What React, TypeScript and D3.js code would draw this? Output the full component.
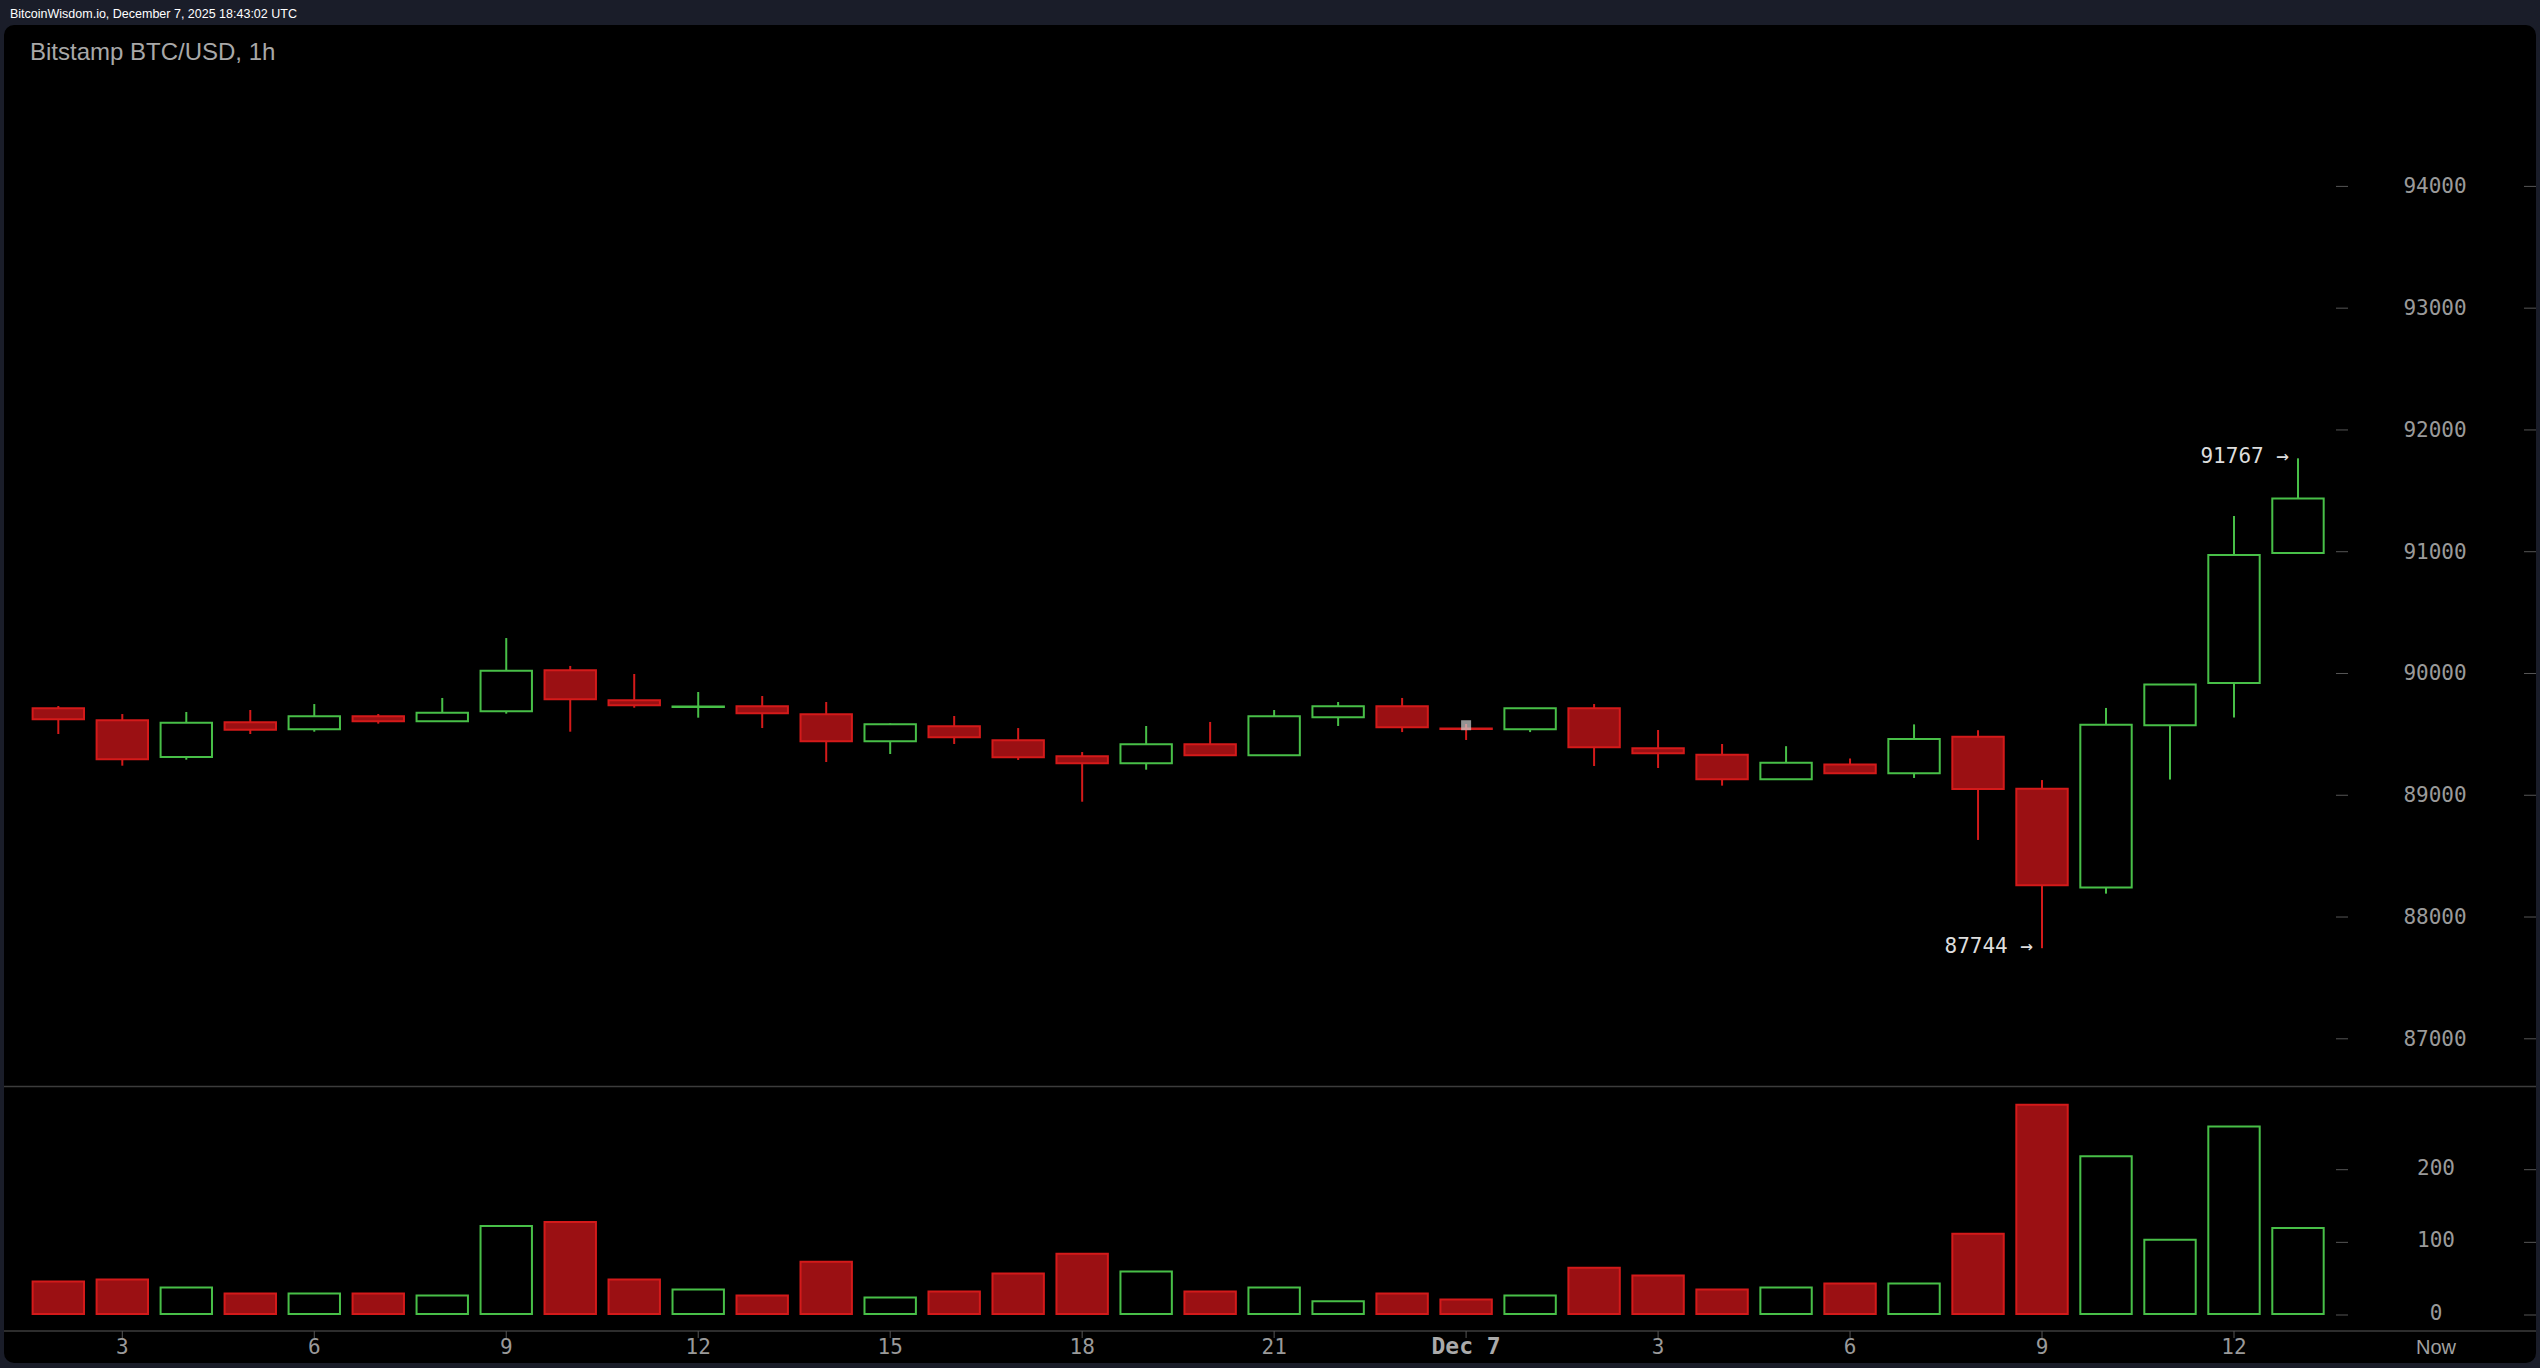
import React from "react";
import * as d3 from "d3";

const hours = [2,3,4,5,6,7,8,9,10,11,12,13,14,15,16,17,18,19,20,21,22,23,24,25,26,27,28,29,30,31,32,33,34,35,36,37];
const opens = [89714,89616,89314,89599,89542,89648,89607,89690,90026,89780,89725,89731,89665,89443,89566,89451,89320,89263,89419,89328,89640,89731,89549,89542,89714,89386,89333,89132,89252,89180,89481,89054,88243,89575,89921,90989];
const highs = [89733,89667,89684,89700,89749,89667,89799,90291,90062,89996,89848,89815,89766,89590,89651,89552,89355,89569,89602,89700,89766,89799,89585,89714,89749,89536,89421,89403,89302,89582,89534,89125,89717,89909,91294,91767];
const lows = [89503,89243,89292,89503,89522,89588,89604,89670,89522,89719,89637,89552,89273,89339,89421,89290,88947,89210,89325,89325,89569,89519,89454,89519,89240,89224,89079,89130,89175,89142,88633,87744,88192,89129,89639,90989];
const closes = [89624,89295,89596,89538,89648,89607,89678,90023,89788,89739,89729,89673,89443,89583,89476,89312,89263,89419,89328,89648,89731,89558,89545,89714,89394,89345,89132,89267,89180,89462,89051,88261,89579,89909,90974,91436];
const volumes = [44.7,47.4,36.5,28.3,28.3,28.3,25.6,121.2,126.7,47.4,33.8,25.6,72.0,22.8,31.0,55.6,83.0,58.4,31.0,36.5,17.4,28.3,20.1,25.6,63.8,52.9,33.8,36.5,42.0,42.0,110.3,288.0,217.0,102.1,258.0,118.5];

const priceTicks = [87000,88000,89000,90000,91000,92000,93000,94000];
const volumeTicks = [0,100,200];
const timeTickHours = [3,6,9,12,15,18,21,24,27,30,33,36];
const timeTickLabels = ["3","6","9","12","15","18","21","Dec 7","3","6","9","12"];
const highMark = { hour: 37, price: 91767, label: "91767 →" };
const lowMark = { hour: 33, price: 87744, label: "87744 →" };
const cursorMark = { hour: 24, price: 89575 };

const headerText = "BitcoinWisdom.io, December 7, 2025 18:43:02 UTC";
const titleText = "Bitstamp BTC/USD, 1h";

const W = 2540;
const H = 1368;
const RED_FILL = "#9b1013";
const RED_STROKE = "#d41a1a";
const GREEN = "#48bf48";
const MONO = "'DejaVu Sans Mono', monospace";

export default function App() {
  const x = d3.scaleLinear().domain([3, 36]).range([122.3, 2234]);
  const yP = d3.scaleLinear().domain([87000, 94000]).range([1038.8, 186.4]);
  const yV = d3.scaleLinear().domain([0, 200]).range([1314, 1168.7]);
  const half = 25.7;

  const candles = hours.map((h, i) => ({
    h, o: opens[i], hi: highs[i], lo: lows[i], c: closes[i], v: volumes[i],
    up: closes[i] >= opens[i],
  }));

  const bodyPath = (cx: number, y0: number, y1: number) =>
    `M${cx - half},${y0}H${cx + half}V${y1}H${cx - half}Z`;

  return (
    <div style={{ position: "absolute", left: 0, top: 0, width: W, height: H }}>
      <svg width={W} height={H} style={{ display: "block" }}>
        <rect x={0} y={0} width={W} height={H} fill="#1a1d29" />
        <text x={10} y={18} fill="#ffffff" fontFamily="'Liberation Sans', Arial, sans-serif" fontSize={12.5}>
          {headerText}
        </text>
        <rect x={4} y={25} width={2532} height={1338} rx={10} fill="#000" />
        <text x={30} y={60} fill="#a8a8a8" fontFamily="'Liberation Sans', Arial, sans-serif" fontSize={24}>
          {titleText}
        </text>

        {/* separators */}
        <line x1={4} x2={2536} y1={1086.5} y2={1086.5} stroke="#3c3c3c" strokeWidth={1.5} />
        <line x1={4} x2={2536} y1={1331} y2={1331} stroke="#3c3c3c" strokeWidth={1.5} />

        {/* price axis */}
        {priceTicks.map((t) => (
          <g key={"p" + t}>
            <line x1={2336} x2={2348} y1={yP(t)} y2={yP(t)} stroke="#555" />
            <line x1={2524} x2={2536} y1={yP(t)} y2={yP(t)} stroke="#555" />
            <text x={2435} y={yP(t) + 7} textAnchor="middle" fill="#9a9a9a" fontFamily={MONO} fontSize={21}>
              {t}
            </text>
          </g>
        ))}

        {/* volume axis */}
        {volumeTicks.map((t) => (
          <g key={"v" + t}>
            <line x1={2336} x2={2348} y1={yV(t) + 1} y2={yV(t) + 1} stroke="#555" />
            <line x1={2524} x2={2536} y1={yV(t) + 1} y2={yV(t) + 1} stroke="#555" />
            <text x={2436} y={yV(t) + 6} textAnchor="middle" fill="#9a9a9a" fontFamily={MONO} fontSize={21}>
              {t}
            </text>
          </g>
        ))}

        {/* time axis */}
        {timeTickHours.map((h, i) => (
          <g key={"t" + i}>
            <line x1={x(h)} x2={x(h)} y1={1331} y2={1338} stroke="#555" />
            <text
              x={x(h)}
              y={1354}
              textAnchor="middle"
              fill={timeTickLabels[i] === "Dec 7" ? "#aaaaaa" : "#9a9a9a"}
              fontFamily={MONO}
              fontWeight={timeTickLabels[i] === "Dec 7" ? "bold" : "normal"}
              fontSize={timeTickLabels[i] === "Dec 7" ? 23 : 21}
            >
              {timeTickLabels[i]}
            </text>
          </g>
        ))}
        <text x={2436} y={1354} textAnchor="middle" fill="#a0a0a0" fontFamily="'Liberation Sans', Arial, sans-serif" fontSize={20}>
          Now
        </text>

        {/* volume bars */}
        {candles.map((d, i) => (
          <path
            key={"vb" + i}
            d={bodyPath(x(d.h), yV(d.v), yV(0))}
            fill={d.up ? "none" : RED_FILL}
            stroke={d.up ? GREEN : RED_STROKE}
            strokeWidth={2}
          />
        ))}

        {/* candles */}
        {candles.map((d, i) => {
          const cx = x(d.h);
          const top = yP(Math.max(d.o, d.c));
          const bot = yP(Math.min(d.o, d.c));
          const col = d.up ? GREEN : RED_STROKE;
          return (
            <g key={"c" + i}>
              <line x1={cx} x2={cx} y1={yP(d.hi)} y2={top} stroke={col} strokeWidth={2} />
              <line x1={cx} x2={cx} y1={bot} y2={yP(d.lo)} stroke={col} strokeWidth={2} />
              <path d={bodyPath(cx, top, bot)} fill={d.up ? "none" : RED_FILL} stroke={col} strokeWidth={2} />
            </g>
          );
        })}

        {/* cursor marker */}
        <rect x={x(cursorMark.hour) - 5} y={yP(cursorMark.price) - 5} width={10} height={10} fill="rgba(210,210,210,0.7)" />

        {/* high/low annotations */}
        {[highMark, lowMark].map((m, i) => (
          <text key={"m" + i} x={x(m.hour) - 9} y={yP(m.price) + 5} textAnchor="end" fill="#dddddd" fontFamily={MONO} fontSize={21}>
            {m.label}
          </text>
        ))}
      </svg>
    </div>
  );
}
